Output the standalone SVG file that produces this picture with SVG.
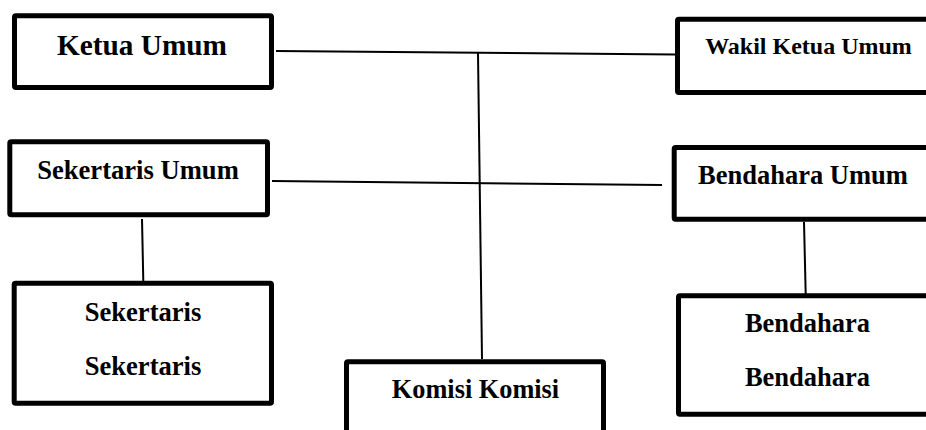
<svg xmlns="http://www.w3.org/2000/svg" width="926" height="430" viewBox="0 0 926 430">
  <style>
    .box { fill: #ffffff; stroke: #000000; stroke-width: 5; }
    .lbl { font-family: "Liberation Serif", "Times New Roman", serif; font-weight: bold; fill: #000000; text-anchor: middle; }
    .conn { stroke: #000000; stroke-width: 2; fill: none; }
  </style>
  <rect width="926" height="430" fill="#ffffff"/>
  <g id="connectors">
    <line class="conn" x1="276" y1="51" x2="675" y2="54.5"/>
    <line class="conn" x1="272" y1="181" x2="662" y2="185"/>
    <line class="conn" x1="478" y1="53" x2="482" y2="359"/>
    <line class="conn" x1="142" y1="219" x2="143.3" y2="281"/>
    <line class="conn" x1="804" y1="222" x2="805.7" y2="294"/>
  </g>
  <g id="ketua-umum">
    <rect class="box" x="14.5" y="15.8" width="257" height="71.7" rx="1.5"/>
    <text class="lbl" x="142" y="55" font-size="29.3">Ketua Umum</text>
  </g>
  <g id="wakil-ketua-umum">
    <rect class="box" x="677.5" y="19.2" width="260" height="73.3" rx="1.5"/>
    <text class="lbl" x="808.5" y="54" font-size="24">Wakil Ketua Umum</text>
  </g>
  <g id="sekertaris-umum">
    <rect class="box" x="9.8" y="141.8" width="257.7" height="73" rx="1.5"/>
    <text class="lbl" x="138" y="179" font-size="26.6">Sekertaris Umum</text>
  </g>
  <g id="bendahara-umum">
    <rect class="box" x="674.2" y="147.5" width="260" height="71.7" rx="1.5"/>
    <text class="lbl" x="803" y="184" font-size="26.5">Bendahara Umum</text>
  </g>
  <g id="sekertaris">
    <rect class="box" x="14.2" y="283.2" width="257.3" height="120" rx="1.5"/>
    <text class="lbl" x="143" y="321" font-size="26.6">Sekertaris</text>
    <text class="lbl" x="143" y="375" font-size="26.6">Sekertaris</text>
  </g>
  <g id="bendahara">
    <rect class="box" x="678.5" y="295.8" width="260" height="118.4" rx="1.5"/>
    <text class="lbl" x="807.5" y="331.7" font-size="26.5">Bendahara</text>
    <text class="lbl" x="807.5" y="386" font-size="26.5">Bendahara</text>
  </g>
  <g id="komisi-komisi">
    <rect class="box" x="346.5" y="361.8" width="257" height="100" rx="1.5"/>
    <text class="lbl" x="475.5" y="398.3" font-size="26.3">Komisi Komisi</text>
  </g>
</svg>
